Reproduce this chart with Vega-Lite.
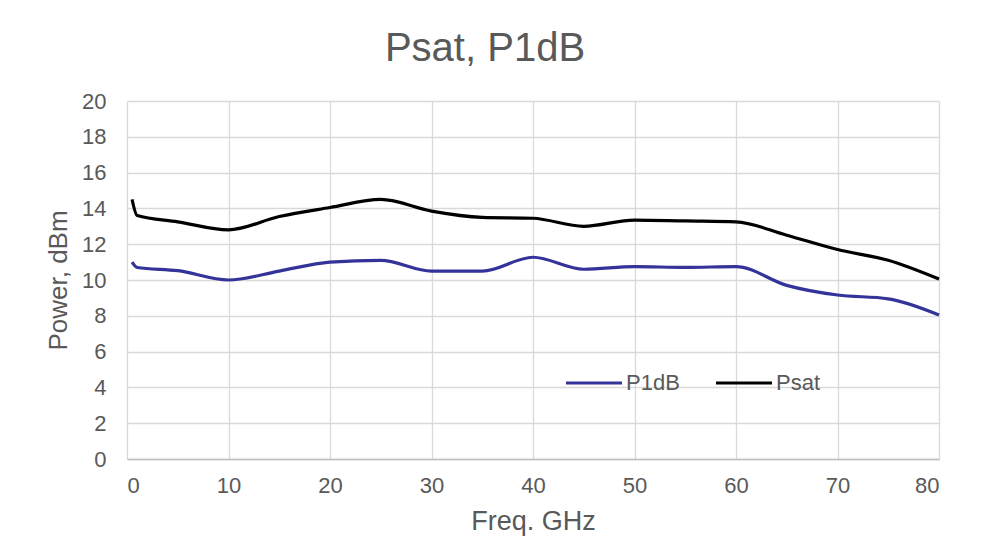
{
  "$schema": "https://vega.github.io/schema/vega-lite/v6.json",
  "width": 812,
  "height": 358,
  "autosize": {"type": "none"},
  "padding": {"left": 127, "top": 101, "right": 45, "bottom": 91},
  "background": "white",
  "title": {"text": "Psat, P1dB", "fontSize": 40, "font": "Liberation Sans", "fontWeight": "normal", "color": "#595959", "anchor": "middle", "offset": 21, "dx": -48},
  "config": {"view": {"stroke": null}, "font": "Liberation Sans"},
  "data": {"values": [
    {"f": 0.5, "p": 14.5, "s": "Psat"},
    {"f": 1, "p": 13.6, "s": "Psat"},
    {"f": 5, "p": 13.25, "s": "Psat"},
    {"f": 10, "p": 12.8, "s": "Psat"},
    {"f": 15, "p": 13.55, "s": "Psat"},
    {"f": 20, "p": 14.05, "s": "Psat"},
    {"f": 25, "p": 14.5, "s": "Psat"},
    {"f": 30, "p": 13.85, "s": "Psat"},
    {"f": 35, "p": 13.5, "s": "Psat"},
    {"f": 40, "p": 13.45, "s": "Psat"},
    {"f": 45, "p": 13.0, "s": "Psat"},
    {"f": 50, "p": 13.35, "s": "Psat"},
    {"f": 55, "p": 13.3, "s": "Psat"},
    {"f": 60, "p": 13.25, "s": "Psat"},
    {"f": 65, "p": 12.5, "s": "Psat"},
    {"f": 70, "p": 11.7, "s": "Psat"},
    {"f": 75, "p": 11.1, "s": "Psat"},
    {"f": 80, "p": 10.05, "s": "Psat"},
    {"f": 0.5, "p": 11.0, "s": "P1dB"},
    {"f": 1, "p": 10.7, "s": "P1dB"},
    {"f": 5, "p": 10.52, "s": "P1dB"},
    {"f": 10, "p": 10.0, "s": "P1dB"},
    {"f": 15, "p": 10.5, "s": "P1dB"},
    {"f": 20, "p": 11.0, "s": "P1dB"},
    {"f": 25, "p": 11.1, "s": "P1dB"},
    {"f": 30, "p": 10.5, "s": "P1dB"},
    {"f": 35, "p": 10.5, "s": "P1dB"},
    {"f": 40, "p": 11.27, "s": "P1dB"},
    {"f": 45, "p": 10.6, "s": "P1dB"},
    {"f": 50, "p": 10.75, "s": "P1dB"},
    {"f": 55, "p": 10.7, "s": "P1dB"},
    {"f": 60, "p": 10.75, "s": "P1dB"},
    {"f": 65, "p": 9.7, "s": "P1dB"},
    {"f": 70, "p": 9.16, "s": "P1dB"},
    {"f": 75, "p": 8.95, "s": "P1dB"},
    {"f": 80, "p": 8.05, "s": "P1dB"}
  ]},
  "mark": {"type": "line", "interpolate": "monotone", "strokeWidth": 3.2},
  "encoding": {
    "x": {"field": "f", "type": "quantitative", "title": "Freq. GHz",
      "scale": {"domain": [0, 80], "nice": false, "zero": false},
      "axis": {"values": [0,10,20,30,40,50,60,70,80], "grid": true, "gridColor": "#d9d9d9", "gridWidth": 1.3, "domainColor": "#bfbfbf", "domainWidth": 1.3, "ticks": false, "labelFontSize": 22, "labelColor": "#595959", "labelPadding": 16, "titleFontSize": 27, "titleFontWeight": "normal", "titleColor": "#595959", "titlePadding": 12}},
    "y": {"field": "p", "type": "quantitative", "title": "Power, dBm",
      "scale": {"domain": [0, 20], "nice": false},
      "axis": {"values": [0,2,4,6,8,10,12,14,16,18,20], "grid": true, "gridColor": "#d9d9d9", "gridWidth": 1.3, "domain": false, "ticks": false, "labelFontSize": 22, "labelColor": "#595959", "labelPadding": 21, "titleFontSize": 26, "titleFontWeight": "normal", "titleColor": "#595959", "titlePadding": 10}},
    "color": {"field": "s", "type": "nominal", "title": null,
      "scale": {"domain": ["P1dB", "Psat"], "range": ["#333399", "#000000"]},
      "legend": {"orient": "none", "legendX": 437, "legendY": 252, "direction": "horizontal", "symbolType": "stroke", "symbolSize": 3136, "symbolStrokeWidth": 3.2, "labelFontSize": 22, "labelColor": "#595959", "columnPadding": 29, "labelOffset": 2}}
  }
}
